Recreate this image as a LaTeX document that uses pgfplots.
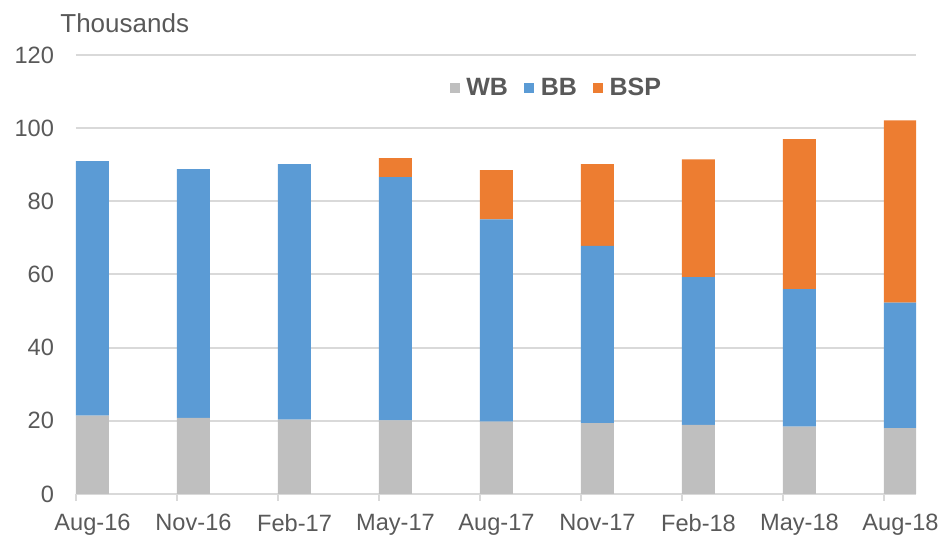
\documentclass[border=0pt]{standalone}
\usepackage{fontspec}
\setmainfont{Liberation Sans}
\usepackage{pgfplots}
\pgfplotsset{compat=1.18}
\definecolor{wbgray}{HTML}{BFBFBF}
\definecolor{bbblue}{HTML}{5B9BD5}
\definecolor{bsporange}{HTML}{ED7D31}
\definecolor{txtgray}{HTML}{595959}
\definecolor{gridgray}{HTML}{D9D9D9}

\begin{document}
\begin{tikzpicture}
\begin{axis}[
  name=ax,
  scale only axis,
  width=420pt, height=219.5pt,
  ybar stacked, bar width=16.5pt, bar shift=8.25pt,
  xmin=0, xmax=8.317,
  ymin=0, ymax=120,
  xtick={0,...,8},
  xticklabels={Aug-16,Nov-16,Feb-17,May-17,Aug-17,Nov-17,Feb-18,May-18,Aug-18},
  ytick={0,20,...,120},
  ymajorgrids,
  grid style={gridgray, line width=1pt},
  axis x line=bottom,
  axis y line=left,
  x axis line style={-, gridgray, line width=1pt},
  y axis line style={draw=none},
  xtick style={gridgray, line width=1pt},
  ytick style={draw=none},
  tick align=outside,
  major tick length=3.5pt,
  /pgf/number format/assume math mode=true,
  ticklabel style={font=\fontsize{11.8}{13}\selectfont, text=txtgray},
  x tick label style={xshift=8.25pt, yshift=-3pt},
  y tick label style={xshift=-4pt},
  legend style={draw=none, fill=none, legend columns=3,
    at={(0.573,0.925)}, anchor=center,
    font=\fontsize{12.5}{14}\selectfont\bfseries, text=txtgray,
    /tikz/every even column/.append style={column sep=6pt},
    /tikz/every odd column/.append style={column sep=1.2pt},
    cells={anchor=west}},
  legend image code/.code={\fill[#1,draw=none] (0pt,-2.6pt) rectangle (5.2pt,2.6pt);},
]
\addplot[fill=wbgray, draw=none] coordinates {(0,21.4) (1,20.8) (2,20.3) (3,20.1) (4,19.8) (5,19.4) (6,18.9) (7,18.4) (8,18.0)};
\addplot[fill=bbblue, draw=none] coordinates {(0,69.6) (1,68.0) (2,69.9) (3,66.5) (4,55.3) (5,48.4) (6,40.4) (7,37.6) (8,34.3)};
\addplot[fill=bsporange, draw=none] coordinates {(0,0) (1,0) (2,0) (3,5.2) (4,13.4) (5,22.4) (6,32.2) (7,41.0) (8,49.8)};
\legend{WB, BB, BSP}
\end{axis}
\node[anchor=base west, text=txtgray, font=\fontsize{13}{15}\selectfont, inner sep=0pt]
  at ([xshift=-8pt, yshift=11pt]ax.north west) {Thousands};
\pgfresetboundingbox
\path ([shift={(-38pt,-20.5pt)}]ax.south west) rectangle ([shift={(11.5pt,27.5pt)}]ax.north east);
\end{tikzpicture}
\end{document}
